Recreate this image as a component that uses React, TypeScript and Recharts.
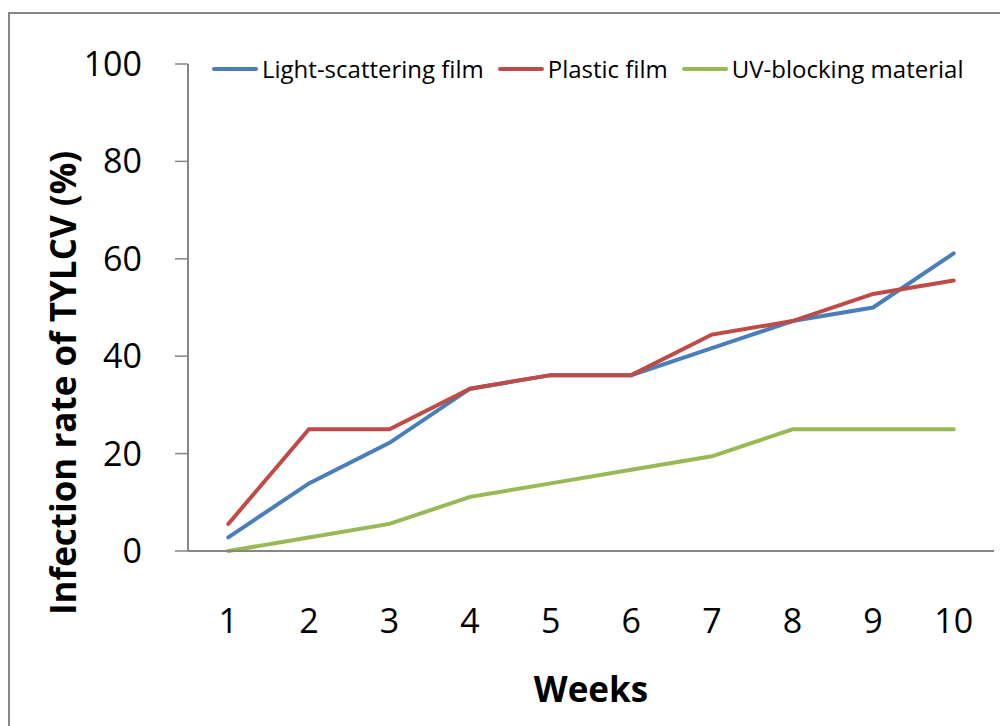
import React from 'react'
import { LineChart, Line, XAxis, YAxis, Legend, Label } from 'recharts'

const weeks = [1, 2, 3, 4, 5, 6, 7, 8, 9, 10]
const lightScattering = [2.78, 13.89, 22.22, 33.33, 36.11, 36.11, 41.67, 47.22, 50, 61.11]
const plasticFilm = [5.56, 25, 25, 33.33, 36.11, 36.11, 44.44, 47.22, 52.78, 55.56]
const uvBlocking = [0, 2.78, 5.56, 11.11, 13.89, 16.67, 19.44, 25, 25, 25]
const yTicks = [0, 20, 40, 60, 80, 100]
// category boundaries, used only for the tick marks under the x axis
const weekEdges = [0.5, 1.5, 2.5, 3.5, 4.5, 5.5, 6.5, 7.5, 8.5, 9.5, 10.5]

const data = weeks.map((week, i) => ({
  week,
  light: lightScattering[i],
  plastic: plasticFilm[i],
  uv: uvBlocking[i]
}))

const FONT = '"Open Sans", sans-serif'
const AXIS_GRAY = '#868686'

const LegendRow = ({ payload }: any) => (
  <div style={{ display: 'flex', alignItems: 'center', fontFamily: FONT, fontSize: 24, color: '#000', whiteSpace: 'nowrap' }}>
    {(payload || []).map((entry: any) => (
      <div key={entry.value} style={{ display: 'flex', alignItems: 'center', marginRight: 14 }}>
        <span style={{ display: 'inline-block', width: 46, height: 4, borderRadius: 2, background: entry.color, marginRight: 4 }} />
        <span>{entry.value}</span>
      </div>
    ))}
  </div>
)

export default function App() {
  return (
    <div style={{ position: 'fixed', left: 0, top: 0, width: 1000, height: 726, overflow: 'hidden', background: '#fff' }}>
      <div
        style={{
          position: 'absolute',
          left: 8,
          top: 12,
          width: 1000,
          height: 800,
          borderLeft: `2px solid ${AXIS_GRAY}`,
          borderTop: `2px solid ${AXIS_GRAY}`
        }}
      />
      <div style={{ position: 'absolute', left: 0, top: 0 }}>
        <LineChart width={1000} height={726} data={data} margin={{ top: 64, right: 6, left: 0, bottom: 173 }}>
          <XAxis
            xAxisId="edges"
            type="number"
            dataKey="week"
            domain={[0.5, 10.5]}
            ticks={weekEdges}
            tick={false}
            tickSize={14}
            height={1}
            axisLine={{ stroke: AXIS_GRAY, strokeWidth: 2 }}
            tickLine={{ stroke: AXIS_GRAY, strokeWidth: 1.5 }}
          />
          <XAxis
            xAxisId="weeks"
            type="number"
            dataKey="week"
            domain={[0.5, 10.5]}
            ticks={weeks}
            height={1}
            axisLine={false}
            tickLine={false}
            tickSize={0}
            tickMargin={57}
            tick={{ fontFamily: FONT, fontSize: 34, fill: '#000' }}
          >
            <Label
              content={({ viewBox }: any) => (
                <text
                  x={viewBox.x + viewBox.width / 2}
                  y={702}
                  textAnchor="middle"
                  fontFamily={FONT}
                  fontSize={35}
                  fontWeight="bold"
                  fill="#000"
                >
                  Weeks
                </text>
              )}
            />
          </XAxis>
          <YAxis
            domain={[0, 100]}
            ticks={yTicks}
            width={188}
            tickSize={13}
            tickMargin={33}
            axisLine={{ stroke: AXIS_GRAY, strokeWidth: 2 }}
            tickLine={{ stroke: AXIS_GRAY, strokeWidth: 1.5 }}
            tick={{ fontFamily: FONT, fontSize: 34, fill: '#000' }}
          >
            <Label
              content={({ viewBox }: any) => {
                const cx = viewBox.x + 76
                const cy = 383
                return (
                  <text
                    x={cx}
                    y={cy}
                    transform={`rotate(-90 ${cx} ${cy})`}
                    textAnchor="middle"
                    fontFamily={FONT}
                    fontSize={35}
                    fontWeight="bold"
                    fill="#000"
                  >
                    Infection rate of TYLCV (%)
                  </text>
                )
              }}
            />
          </YAxis>
          <Legend
            verticalAlign="middle"
            align="center"
            layout="horizontal"
            content={<LegendRow />}
            wrapperStyle={{ top: 52, left: 212, width: 780, height: 34 }}
          />
          <Line xAxisId="weeks" type="linear" dataKey="light" name="Light-scattering film" stroke="#4A7EBB" strokeWidth={4} strokeLinecap="round" dot={false} isAnimationActive={false} />
          <Line xAxisId="weeks" type="linear" dataKey="plastic" name="Plastic film" stroke="#BE4B48" strokeWidth={4} strokeLinecap="round" dot={false} isAnimationActive={false} />
          <Line xAxisId="weeks" type="linear" dataKey="uv" name="UV-blocking material" stroke="#98B954" strokeWidth={4} strokeLinecap="round" dot={false} isAnimationActive={false} />
        </LineChart>
      </div>
    </div>
  )
}
